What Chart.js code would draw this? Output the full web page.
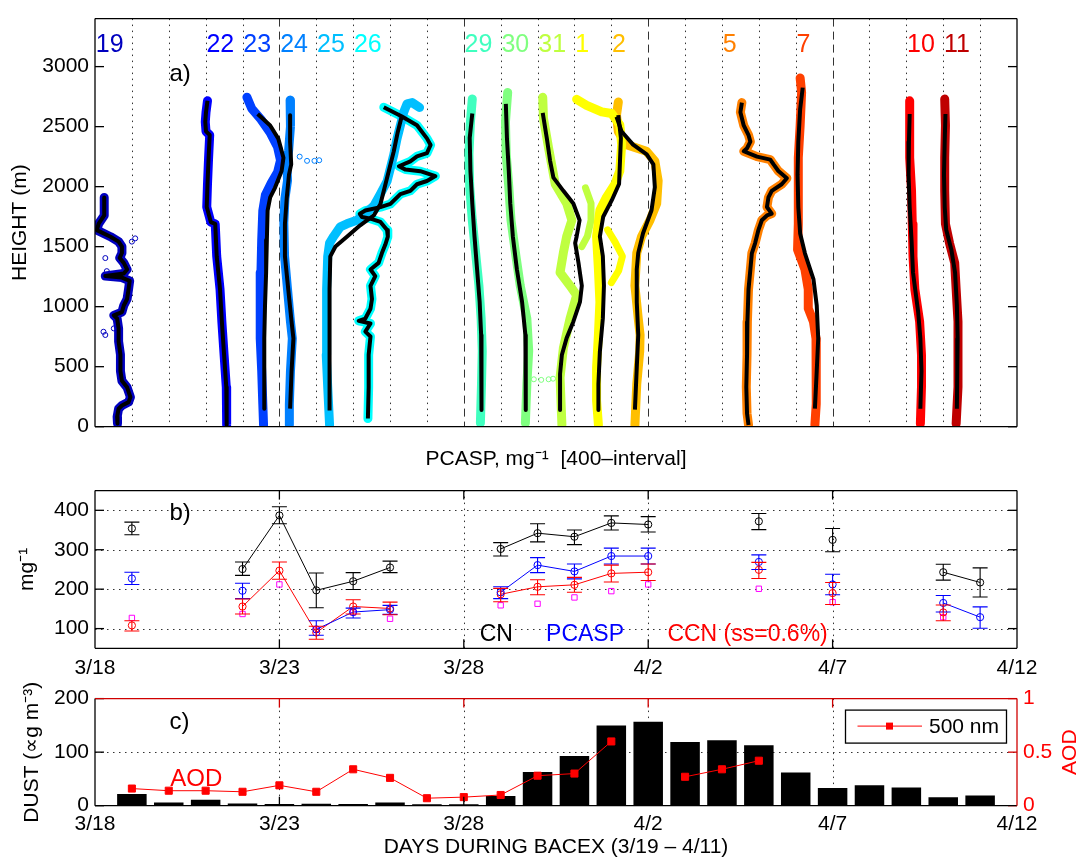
<!DOCTYPE html>
<html>
<head>
<meta charset="utf-8">
<title>BACEX profiles</title>
<script src="https://cdn.jsdelivr.net/npm/chart.js@4.4.1/dist/chart.umd.min.js"></script>
<style>
  html, body { margin: 0; padding: 0; background: #fff; }
  body { width: 1080px; height: 860px; position: relative; overflow: hidden; }
  canvas { position: absolute; left: 0; }
</style>
</head>
<body>
<canvas id="panelA" width="1080" height="472" style="top:0"></canvas>
<canvas id="panelB" width="1080" height="208" style="top:472px"></canvas>
<canvas id="panelC" width="1080" height="180" style="top:680px"></canvas>
<script>
// ---- axes / ticks ----
const dateTickDays = [0, 5, 10, 15, 20, 25];           // days after 3/18
const dateTickLabels = ['3/18', '3/23', '3/28', '4/2', '4/7', '4/12'];
const heightTicks = [0, 500, 1000, 1500, 2000, 2500, 3000];
const concTicks = [100, 200, 300, 400];
const dustTicks = [0, 100, 200];
const aodTicks = [0, 0.5, 1];

// ---- a) flights: label, day index, colour ----
const flightLabels = ['19', '22', '23', '24', '25', '26', '29', '30', '31', '1', '2', '5', '7', '10', '11'];
const flightDays = [1, 4, 5, 6, 7, 8, 11, 12, 13, 14, 15, 18, 20, 23, 24];
const flightColors = ['#0000bf', '#0000ff', '#0040ff', '#0080ff', '#00bfff', '#00ffff', '#40ffbf', '#80ff80',
                      '#bfff40', '#ffff00', '#ffbf00', '#ff8000', '#ff4000', '#ff0000', '#bf0000'];

// profiles: [offset position, height m]
const p19 = [[0.25,1910],[0.25,1760],[0.10,1692],[0.05,1638],[0.42,1583],[0.64,1542],[0.73,1501],[0.73,1447],[0.67,1406],[0.78,1365],[0.87,1310],[0.78,1277],[0.28,1255],[0.73,1242],[0.94,1215],[0.91,1146],[0.87,1064],[0.78,1010],[0.73,955],[0.51,928],[0.60,901],[0.64,819],[0.64,710],[0.69,600],[0.69,464],[0.73,382],[0.87,328],[0.96,246],[0.91,205],[0.73,177],[0.64,150],[0.60,82],[0.61,27]];
const p19Out = [[1.00,1542],[1.09,1569],[0.28,1405],[0.32,1296],[0.28,764],[0.23,791],[0.51,819]];
const p22 = [[3.05,2715],[3.01,2620],[2.99,2540],[3.01,2460],[3.11,2430],[3.08,2240],[3.05,2020],[3.03,1830],[3.14,1705],[3.26,1690],[3.30,1420],[3.39,1145],[3.44,875],[3.50,600],[3.56,330],[3.57,15]];
const p23Raw = [[4.12,2745],[4.25,2650],[4.50,2560],[4.75,2450],[4.95,2330],[5.03,2220],[4.95,2120],[4.78,2030],[4.62,1930],[4.55,1800],[4.52,1555],[4.50,1285],[4.48,1010],[4.48,735],[4.52,465],[4.55,190],[4.57,15]];
const p23Fit = [[4.41,2605],[4.75,2510],[4.97,2400],[5.11,2240],[5.06,2130],[4.88,1990],[4.75,1910],[4.68,1800],[4.66,1555],[4.64,1285],[4.61,1010],[4.59,735],[4.59,465],[4.59,150]];
const p24Raw = [[5.29,2720],[5.30,2500],[5.25,2300],[5.20,2200],[5.22,2050],[5.15,1900],[5.12,1700],[5.14,1420],[5.22,1145],[5.30,875],[5.35,735],[5.30,465],[5.27,190],[5.27,15]];
const p24Fit = [[5.29,2595],[5.29,2375],[5.32,2185],[5.26,2100],[5.20,1910],[5.15,1690],[5.15,1420],[5.24,1145],[5.33,875],[5.38,735],[5.33,465],[5.29,150]];
const p24Out = [[5.55,2250],[5.75,2215],[5.95,2215],[6.08,2220]];
const p25Raw = [[6.36,15],[6.31,330],[6.27,600],[6.27,875],[6.29,1145],[6.31,1420],[6.36,1530],[6.47,1585],[6.65,1665],[6.83,1690],[7.10,1720],[7.33,1775],[7.56,1840],[7.74,1940],[7.92,2045],[8.01,2155],[8.10,2265],[8.19,2400],[8.28,2510],[8.37,2620],[8.46,2690],[8.60,2700],[8.80,2660]];
const p25Fit = [[6.36,136],[6.36,600],[6.36,1146],[6.38,1419],[6.52,1501],[6.83,1583],[7.19,1678],[7.56,1760],[7.74,1856],[7.92,2074],[8.10,2293],[8.21,2456],[8.31,2579]];
const p26 = [[7.83,2661],[8.31,2587],[8.73,2511],[9.00,2402],[9.10,2347],[9.00,2279],[8.73,2252],[8.55,2211],[8.24,2170],[8.42,2142],[8.82,2129],[9.23,2088],[9.00,2047],[8.73,2020],[8.55,1965],[8.28,1938],[8.01,1856],[7.74,1829],[7.33,1801],[7.18,1774],[7.24,1747],[7.47,1733],[7.74,1706],[7.92,1638],[7.94,1583],[7.87,1515],[7.78,1447],[7.69,1365],[7.47,1310],[7.60,1255],[7.47,1174],[7.51,1064],[7.47,983],[7.33,901],[7.15,882],[7.47,860],[7.33,792],[7.47,751],[7.42,600],[7.42,328],[7.40,68]];
const p29Raw = [[10.23,2730],[10.18,2540],[10.14,2270],[10.16,2000],[10.23,1720],[10.32,1450],[10.41,1175],[10.47,900],[10.50,630],[10.48,355],[10.45,30]];
const p29Fit = [[10.23,2610],[10.16,2405],[10.18,2130],[10.23,1860],[10.29,1585],[10.36,1310],[10.43,1040],[10.47,765],[10.48,490],[10.48,140]];
const p30Raw = [[11.19,2785],[11.13,2540],[11.15,2270],[11.22,2000],[11.28,1720],[11.40,1450],[11.53,1175],[11.71,900],[11.76,630],[11.71,355],[11.67,30]];
const p30Fit = [[11.14,2690],[11.17,2405],[11.22,2130],[11.26,1860],[11.33,1585],[11.44,1310],[11.58,1040],[11.67,765],[11.68,490],[11.68,140]];
const p30Out = [[11.90,395],[12.10,390],[12.30,395],[12.42,400]];
const p31Raw = [[12.14,2745],[12.16,2570],[12.30,2320],[12.48,2020],[12.79,1860],[12.93,1720],[12.79,1585],[12.70,1450],[12.61,1285],[12.88,1175],[13.06,1095],[12.88,900],[12.70,655],[12.61,410],[12.66,15]];
const p31Side = [[13.30,1990],[13.45,1860],[13.45,1720],[13.35,1585],[13.20,1500]];
const p31Fit = [[12.14,2615],[12.25,2405],[12.34,2215],[12.43,2075],[12.70,1965],[12.97,1860],[13.14,1720],[13.06,1585],[13.02,1530],[13.11,1365],[13.20,1175],[13.15,1040],[12.97,875],[12.79,740],[12.66,600],[12.61,440],[12.61,140]];
const p1Raw = [[13.06,2727],[13.33,2678],[13.74,2623],[14.01,2609],[14.23,2514],[14.28,2350],[14.23,2131],[14.10,2022],[13.87,1913],[13.69,1803],[13.60,1585],[13.65,1311],[13.69,1038],[13.65,765],[13.60,492],[13.60,219],[13.65,14]];
const p1Side = [[13.90,1640],[14.10,1540],[14.30,1420],[14.20,1300],[14.00,1200]];
const p1Fit = [[14.19,2596],[14.26,2404],[14.21,2022],[14.01,1885],[13.78,1749],[13.69,1585],[13.77,1421],[13.80,1175],[13.77,902],[13.69,628],[13.65,355],[13.65,140]];
const p2Raw = [[14.19,2705],[14.14,2596],[14.19,2459],[14.41,2350],[14.95,2295],[15.18,2213],[15.27,2049],[15.23,1858],[15.05,1721],[14.82,1585],[14.69,1448],[14.64,1175],[14.73,902],[14.78,765],[14.77,628],[14.69,355],[14.64,14]];
const p2Fit = [[14.14,2582],[14.28,2459],[14.59,2350],[14.96,2268],[15.14,2186],[15.18,1995],[15.09,1803],[14.86,1612],[14.73,1448],[14.69,1311],[14.69,1038],[14.73,765],[14.69,492],[14.64,142]];
const p5 = [[17.54,2700],[17.50,2620],[17.59,2510],[17.72,2430],[17.77,2375],[17.68,2320],[17.59,2295],[17.95,2250],[18.31,2225],[18.40,2185],[18.53,2130],[18.76,2070],[18.62,2020],[18.35,1965],[18.26,1910],[18.22,1830],[18.35,1775],[18.22,1760],[18.08,1720],[17.99,1640],[17.90,1530],[17.81,1445],[17.77,1310],[17.72,1145],[17.69,875],[17.68,600],[17.66,330],[17.68,110],[17.72,15]];
const p7Raw = [[19.12,2905],[19.16,2785],[19.12,2510],[19.07,2240],[19.07,1965],[19.07,1690],[19.05,1475],[19.25,1310],[19.34,1145],[19.34,985],[19.48,875],[19.55,735],[19.57,465],[19.55,330],[19.55,190],[19.52,15]];
const p7Fit = [[19.19,2825],[19.12,2645],[19.07,2375],[19.05,2100],[19.07,1830],[19.12,1610],[19.25,1445],[19.48,1230],[19.57,1010],[19.61,735],[19.57,465],[19.52,150]];
const p10Raw = [[22.09,2715],[22.09,2510],[22.09,2240],[22.14,1965],[22.16,1690],[22.18,1420],[22.23,1145],[22.36,875],[22.41,600],[22.41,330],[22.38,25]];
const p10Fit = [[22.09,2605],[22.07,2375],[22.06,2100],[22.09,1830],[22.14,1555],[22.18,1285],[22.32,955],[22.38,735],[22.41,465],[22.38,150]];
const p11Raw = [[23.04,2730],[23.06,2510],[23.04,2240],[23.04,1965],[23.06,1690],[23.17,1530],[23.31,1365],[23.35,1145],[23.40,875],[23.40,600],[23.40,330],[23.35,25]];
const p11Fit = [[23.06,2605],[23.04,2375],[23.02,2100],[23.04,1830],[23.08,1640],[23.22,1475],[23.32,1285],[23.37,1010],[23.39,735],[23.38,465],[23.37,150]];

const profileRaw = [p19, p22, p23Raw, p24Raw, p25Raw, p26, p29Raw, p30Raw, p31Raw, p1Raw, p2Raw, p5, p7Raw, p10Raw, p11Raw];
const profileFit = [p19, p22, p23Fit, p24Fit, p25Fit, p26, p29Fit, p30Fit, p31Fit, p1Fit, p2Fit, p5, p7Fit, p10Fit, p11Fit];

// ---- b) number concentrations, day index 1..24 (3/19..4/11) ----
const obsDays = [1,2,3,4,5,6,7,8,9,10,11,12,13,14,15,16,17,18,19,20,21,22,23,24];
const cnMean = [354,null,null,251,387,197,220,255,null,null,302,342,333,368,364,null,null,372,null,325,null,null,243,217];
const cnLo   = [338,null,null,235,366,153,199,242,null,null,284,320,313,350,345,null,null,351,null,295,null,null,223,180];
const cnHi   = [370,null,null,269,409,241,242,271,null,null,318,366,350,386,384,null,null,392,null,354,null,null,263,254];
const pcaspMean = [227,null,null,196,null,98,142,148,null,null,192,261,245,284,284,null,null,269,null,212,null,null,165,129];
const pcaspLo   = [212,null,null,176,null,83,127,136,null,null,176,242,226,264,264,null,null,250,null,186,null,null,142,101];
const pcaspHi   = [243,null,null,215,null,120,152,159,null,null,206,280,264,304,304,null,null,287,null,238,null,null,184,155];
const ccnMean = [108,null,null,156,247,90,156,151,null,null,187,206,211,240,243,null,null,249,null,190,null,null,141,null];
const ccnLo   = [94,null,null,137,225,73,137,135,null,null,168,186,192,218,222,null,null,227,null,161,null,null,120,null];
const ccnHi   = [120,null,null,175,269,106,173,167,null,null,202,224,230,261,264,null,null,268,null,217,null,null,160,null];
const ccnSquare = [127,null,null,137,212,97,141,125,null,null,159,163,179,195,212,null,null,201,null,167,null,null,129,null];

// ---- c) dust and AOD ----
const dust = [22,6,11,4,3,3.5,3,6,2.5,2.5,18,63,93,150,157,119,122,113,62,33,38,34,16,19];
const aod = [0.16,0.14,0.14,0.13,0.19,0.13,0.34,0.26,0.07,0.08,0.10,0.28,0.30,0.60,null,0.27,0.34,0.42,null,null,null,null,null,null];

const FONT = '"Liberation Sans", Arial, Helvetica, sans-serif';
Chart.defaults.font.family = FONT;
Chart.defaults.font.size = 21;
Chart.defaults.color = '#000';

const fixTicks = vals => scale => { scale.ticks = vals.map(v => ({ value: v })); };
const plain = v => String(v);
const dateLabel = v => dateTickLabels[dateTickDays.indexOf(v)];
const toXY = pts => pts.map(([x, y]) => ({ x, y }));
const byDay = arr => obsDays.map((d, i) => ({ x: d, y: arr[i] }));
const noAxisLines = { grid: { display: false, drawTicks: false }, border: { display: false } };

function baseOptions(padding) {
  return {
    responsive: false, animation: false, events: [],
    layout: { padding },
    plugins: { legend: { display: false }, tooltip: { enabled: false } }
  };
}

// grid lines, inner ticks and the box
const framePlugin = {
  id: 'frame',
  beforeDatasetsDraw(chart, args, o) {
    const { ctx, chartArea: a } = chart;
    const sx = chart.scales.x, sy = chart.scales.y;
    ctx.save();
    ctx.lineWidth = 1;
    ctx.strokeStyle = '#333';
    (o.xLines || []).forEach(v => {
      const px = Math.round(sx.getPixelForValue(v)) + 0.5;
      ctx.setLineDash(o.dashFive && v % 5 === 0 ? [8, 5] : [1.5, 4.5]);
      ctx.beginPath(); ctx.moveTo(px, a.top); ctx.lineTo(px, a.bottom); ctx.stroke();
    });
    (o.yLines || []).forEach(v => {
      const py = Math.round(sy.getPixelForValue(v)) + 0.5;
      ctx.setLineDash([1.5, 4.5]);
      ctx.beginPath(); ctx.moveTo(a.left, py); ctx.lineTo(a.right, py); ctx.stroke();
    });
    ctx.restore();
  },
  afterDatasetsDraw(chart, args, o) {
    const { ctx, chartArea: a } = chart;
    const sx = chart.scales.x, sy = chart.scales.y;
    const tl = 9;
    const top = o.topColor || '#000', right = o.rightColor || '#000';
    ctx.save();
    ctx.lineWidth = 1.3;
    ctx.setLineDash([]);
    const seg = (x1, y1, x2, y2, c) => { ctx.strokeStyle = c; ctx.beginPath(); ctx.moveTo(x1, y1); ctx.lineTo(x2, y2); ctx.stroke(); };
    (o.xTicks || []).forEach(v => {
      const px = sx.getPixelForValue(v);
      seg(px, a.bottom, px, a.bottom - tl, '#000');
      seg(px, a.top, px, a.top + tl, top);
    });
    (o.yTicks || []).forEach(v => {
      const py = sy.getPixelForValue(v);
      seg(a.left, py, a.left + tl, py, '#000');
      if (!o.rightAxis) seg(a.right, py, a.right - tl, py, '#000');
    });
    if (o.rightAxis) {
      const s2 = chart.scales[o.rightAxis];
      o.rightTicks.forEach(v => { const py = s2.getPixelForValue(v); seg(a.right, py, a.right - tl, py, right); });
    }
    seg(a.left, a.bottom, a.right, a.bottom, '#000');
    seg(a.left, a.top, a.left, a.bottom, '#000');
    seg(a.left, a.top, a.right, a.top, top);
    seg(a.right, a.top, a.right, a.bottom, right);
    ctx.restore();
  }
};

// free text placed in data units
const notesPlugin = {
  id: 'notes',
  afterDatasetsDraw(chart, args, o) {
    const { ctx } = chart;
    ctx.save();
    ctx.textBaseline = 'middle';
    ctx.textAlign = 'left';
    o.items.forEach(t => {
      ctx.font = (t.size || 23) + 'px ' + FONT;
      ctx.fillStyle = t.color || '#000';
      ctx.fillText(t.text, chart.scales.x.getPixelForValue(t.x), chart.scales[t.axis || 'y'].getPixelForValue(t.y));
    });
    ctx.restore();
  }
};

// error bars for panel b
const errorBarPlugin = {
  id: 'errorBars',
  afterDatasetsDraw(chart) {
    const { ctx } = chart;
    const sx = chart.scales.x, sy = chart.scales.y;
    ctx.save();
    ctx.lineWidth = 1.1;
    chart.data.datasets.forEach(ds => {
      if (!ds.errLo) return;
      ctx.strokeStyle = ds.borderColor;
      ds.data.forEach((p, i) => {
        if (p.y == null) return;
        const x = sx.getPixelForValue(p.x);
        const y1 = sy.getPixelForValue(ds.errLo[i]), y2 = sy.getPixelForValue(ds.errHi[i]);
        ctx.beginPath();
        ctx.moveTo(x, y1); ctx.lineTo(x, y2);
        ctx.moveTo(x - 7.5, y1); ctx.lineTo(x + 7.5, y1);
        ctx.moveTo(x - 7.5, y2); ctx.lineTo(x + 7.5, y2);
        ctx.stroke();
      });
    });
    ctx.restore();
  }
};

// ---------------- panel a ----------------
const datasetsA = [];
profileFit.forEach(pts => datasetsA.push({
  data: toXY(pts), showLine: true, borderColor: '#000', borderWidth: 4,
  pointRadius: 0, order: 0, borderJoinStyle: 'round'
}));
profileRaw.forEach((pts, i) => datasetsA.push({
  data: toXY(pts), showLine: true, borderColor: flightColors[i], borderWidth: 9,
  pointRadius: 0, order: 1, borderJoinStyle: 'round', borderCapStyle: 'round'
}));
[[p31Side, 8], [p1Side, 9]].forEach(([pts, k]) => datasetsA.push({
  data: toXY(pts), showLine: true, borderColor: flightColors[k], borderWidth: 7,
  pointRadius: 0, order: 2, borderJoinStyle: 'round', borderCapStyle: 'round'
}));
[[p19Out, 0], [p24Out, 3], [p30Out, 7]].forEach(([pts, k]) => datasetsA.push({
  data: toXY(pts), showLine: false, pointRadius: 2.5, pointBorderWidth: 1,
  pointBorderColor: flightColors[k], pointBackgroundColor: 'rgba(0,0,0,0)', order: 2
}));

const notesA = flightLabels.map((t, i) => ({ text: t, x: flightDays[i] - 1 + 0.02, y: 3177, color: flightColors[i], size: 25 }));
notesA.push({ text: 'a)', x: 2.02, y: 2935, size: 24 });

const optA = baseOptions({ top: 12.3, right: 63, left: 0, bottom: 0 });
optA.plugins.frame = { xLines: obsDays, dashFive: true, yTicks: heightTicks };
optA.plugins.notes = { items: notesA };
optA.scales = {
  x: Object.assign({
    type: 'linear', min: 0, max: 25,
    ticks: { display: false },
    title: { display: true, text: 'PCASP, mg⁻¹  [400–interval]', padding: 0 },
    afterFit: s => { s.height = 45.3; }
  }, noAxisLines),
  y: Object.assign({
    type: 'linear', min: 0, max: 3400,
    afterBuildTicks: fixTicks(heightTicks),
    ticks: { padding: 6, callback: plain },
    title: { display: true, text: 'HEIGHT (m)', padding: { top: 7.5 } },
    afterFit: s => { s.width = 95; }
  }, noAxisLines)
};
new Chart(document.getElementById('panelA'), {
  type: 'scatter', data: { datasets: datasetsA }, options: optA,
  plugins: [framePlugin, notesPlugin]
});

// ---------------- panel b ----------------
const seriesB = [
  { mean: cnMean, lo: cnLo, hi: cnHi, color: '#000000' },
  { mean: pcaspMean, lo: pcaspLo, hi: pcaspHi, color: '#0000ff' },
  { mean: ccnMean, lo: ccnLo, hi: ccnHi, color: '#ff0000' }
];
const datasetsB = seriesB.map(s => ({
  data: byDay(s.mean), showLine: true, spanGaps: false,
  borderColor: s.color, borderWidth: 1,
  pointStyle: 'circle', pointRadius: 3.6, pointBorderWidth: 1,
  pointBorderColor: s.color, pointBackgroundColor: 'rgba(0,0,0,0)',
  errLo: s.lo, errHi: s.hi
}));
datasetsB.push({
  data: byDay(ccnSquare), showLine: false,
  pointStyle: 'rect', pointRadius: 3.8, pointBorderWidth: 1,
  pointBorderColor: '#ff00ff', pointBackgroundColor: 'rgba(0,0,0,0)'
});

const optB = baseOptions({ top: 10.7, right: 63, left: 0, bottom: 0 });
optB.plugins.frame = { xLines: [5, 10, 15, 20], yLines: concTicks, xTicks: [5, 10, 15, 20], yTicks: concTicks };
optB.plugins.notes = { items: [
  { text: 'b)', x: 2.02, y: 392, size: 24 },
  { text: 'CN', x: 10.43, y: 84, size: 23, color: '#000' },
  { text: 'PCASP', x: 12.23, y: 84, size: 23, color: '#0000ff' },
  { text: 'CCN (ss=0.6%)', x: 15.52, y: 84, size: 23, color: '#ff0000' }
] };
optB.scales = {
  x: Object.assign({
    type: 'linear', min: 0, max: 25,
    afterBuildTicks: fixTicks(dateTickDays),
    ticks: { callback: dateLabel, padding: 7, maxRotation: 0, autoSkip: false },
    afterFit: s => { s.height = 31.7; }
  }, noAxisLines),
  y: Object.assign({
    type: 'linear', min: 50, max: 450,
    afterBuildTicks: fixTicks(concTicks),
    ticks: { padding: 6, callback: plain },
    title: { display: true, text: 'mg⁻¹', padding: { top: 15 } },
    afterFit: s => { s.width = 95; }
  }, noAxisLines)
};
new Chart(document.getElementById('panelB'), {
  type: 'scatter', data: { datasets: datasetsB }, options: optB,
  plugins: [framePlugin, errorBarPlugin, notesPlugin]
});

// ---------------- panel c ----------------
const aodDecor = {
  id: 'aodDecor',
  afterDraw(chart) {
    const { ctx, chartArea: a } = chart;
    const line = chart.data.datasets[0];
    ctx.save();
    ctx.translate(a.right + 53, (a.top + a.bottom) / 2);
    ctx.rotate(-Math.PI / 2);
    ctx.font = '21px ' + FONT;
    ctx.fillStyle = line.borderColor;
    ctx.textAlign = 'center';
    ctx.textBaseline = 'middle';
    ctx.fillText('AOD', 0, 0);
    ctx.restore();

    // legend box
    const bx = a.right - 172, by = a.top + 11, bw = 161, bh = 33, my = by + bh / 2;
    ctx.save();
    ctx.fillStyle = '#fff';
    ctx.fillRect(bx, by, bw, bh);
    ctx.lineWidth = 1.3;
    ctx.strokeStyle = '#000';
    ctx.strokeRect(bx + 0.5, by + 0.5, bw, bh);
    ctx.strokeStyle = line.borderColor;
    ctx.lineWidth = 1;
    ctx.beginPath(); ctx.moveTo(bx + 12.5, my); ctx.lineTo(bx + 77, my); ctx.stroke();
    ctx.fillStyle = line.borderColor;
    ctx.fillRect(bx + 44.5 - 3.5, my - 3.5, 7, 7);
    ctx.fillStyle = '#000';
    ctx.font = '21px ' + FONT;
    ctx.textBaseline = 'middle';
    ctx.fillText('500 nm', bx + 84, my + 1);
    ctx.restore();
  }
};

const optC = baseOptions({ top: 15, right: 0, left: 0, bottom: 0 });
optC.plugins.frame = {
  xLines: [5, 10, 15, 20], yLines: [100], xTicks: [5, 10, 15, 20], yTicks: dustTicks,
  topColor: '#d00000', rightColor: '#d00000', rightAxis: 'y2', rightTicks: aodTicks
};
optC.plugins.notes = { items: [
  { text: 'c)', x: 2.02, y: 156, size: 24 },
  { text: 'AOD', x: 2.04, y: 50, size: 24, color: '#ff0000' }
] };
optC.scales = {
  x: Object.assign({
    type: 'linear', min: 0, max: 25, offset: false,
    afterBuildTicks: fixTicks(dateTickDays),
    ticks: { callback: dateLabel, padding: 6, maxRotation: 0, autoSkip: false },
    title: { display: true, text: 'DAYS DURING BACEX (3/19 – 4/11)', padding: 0 },
    afterFit: s => { s.height = 54.3; }
  }, noAxisLines),
  y: Object.assign({
    type: 'linear', position: 'left', min: 0, max: 200,
    afterBuildTicks: fixTicks(dustTicks),
    ticks: { padding: 6, callback: plain },
    title: { display: true, text: 'DUST (∝g m⁻³)', padding: { top: 20 } },
    afterFit: s => { s.width = 95; }
  }, noAxisLines),
  y2: Object.assign({
    type: 'linear', position: 'right', min: 0, max: 1,
    afterBuildTicks: fixTicks(aodTicks),
    ticks: { padding: 6, color: '#ff0000', callback: plain },
    afterFit: s => { s.width = 63; }
  }, noAxisLines)
};
new Chart(document.getElementById('panelC'), {
  type: 'bar',
  data: { datasets: [
    { type: 'line', data: byDay(aod), yAxisID: 'y2', spanGaps: false,
      borderColor: '#ff0000', borderWidth: 1, pointStyle: 'rect', pointRadius: 5,
      pointBackgroundColor: '#ff0000', pointBorderColor: '#ff0000', order: 0 },
    { type: 'bar', data: byDay(dust), yAxisID: 'y', backgroundColor: '#000',
      barPercentage: 0.8, categoryPercentage: 1, order: 1 }
  ] },
  options: optC,
  plugins: [framePlugin, notesPlugin, aodDecor]
});
</script>
</body>
</html>
